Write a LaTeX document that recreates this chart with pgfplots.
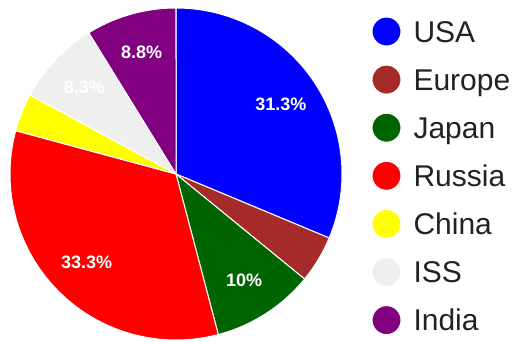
\documentclass[border=0pt]{standalone}
\usepackage{pgfplots}
\pgfplotsset{compat=1.18}
\usepackage{fontspec}
\setmainfont{Liberation Sans}
\definecolor{cUSA}{HTML}{0000FF}
\definecolor{cEurope}{HTML}{A52A2A}
\definecolor{cJapan}{HTML}{006400}
\definecolor{cRussia}{HTML}{FF0000}
\definecolor{cChina}{HTML}{FFFF00}
\definecolor{cISS}{HTML}{EFEFEF}
\definecolor{cIndia}{HTML}{800080}
\definecolor{legtext}{HTML}{222222}
% start (cumulative %), share (%), colour, name
\newcommand{\slice}[4]{%
  \addplot[fill=#3, draw=white, line width=1pt, domain={#1*3.6}:{(#1+#2)*3.6}, samples=90, variable=\t]
    ({166*sin(\t)},{166*cos(\t)}) -- (axis cs:0,0) -- cycle;
  \addlegendentry{#4}
}
\newcommand{\slicelabel}[3]{% start, share, text
  \node[font=\bfseries\fontsize{18}{20}\selectfont, text=white, inner sep=0pt]
    at (axis cs:{126*sin((#1+#2/2)*3.6)},{126*cos((#1+#2/2)*3.6)}) {#3};
}
\begin{document}
\begin{tikzpicture}
\begin{axis}[
  scale only axis, width=513pt, height=341pt,
  xmin=-176, xmax=337, ymin=-167, ymax=174,
  hide axis, clip=false,
  legend cell align=left,
  legend image code/.code={\fill (0pt,0pt) circle (14.5pt);},
  legend style={draw=none, fill=none, at={(axis cs:195.5,157.5)}, anchor=north west,
    inner sep=0pt, outer sep=0pt, row sep=18.1pt, column sep=12pt,
    font=\fontsize{30}{32}\selectfont, text=legtext,
    nodes={inner sep=0pt, text height=21pt, text depth=0pt}},
]
\path (axis cs:-176,-167) rectangle (axis cs:337,174);
\slice{0}{31.3}{cUSA}{USA}
\slice{31.3}{4.6}{cEurope}{Europe}
\slice{35.9}{10}{cJapan}{Japan}
\slice{45.9}{33.3}{cRussia}{Russia}
\slice{79.2}{3.7}{cChina}{China}
\slice{82.9}{8.3}{cISS}{ISS}
\slice{91.2}{8.8}{cIndia}{India}
\slicelabel{0}{31.3}{31.3\%}
\slicelabel{35.9}{10}{10\%}
\slicelabel{45.9}{33.3}{33.3\%}
\slicelabel{82.9}{8.3}{8.3\%}
\slicelabel{91.2}{8.8}{8.8\%}
\end{axis}
\end{tikzpicture}
\end{document}
